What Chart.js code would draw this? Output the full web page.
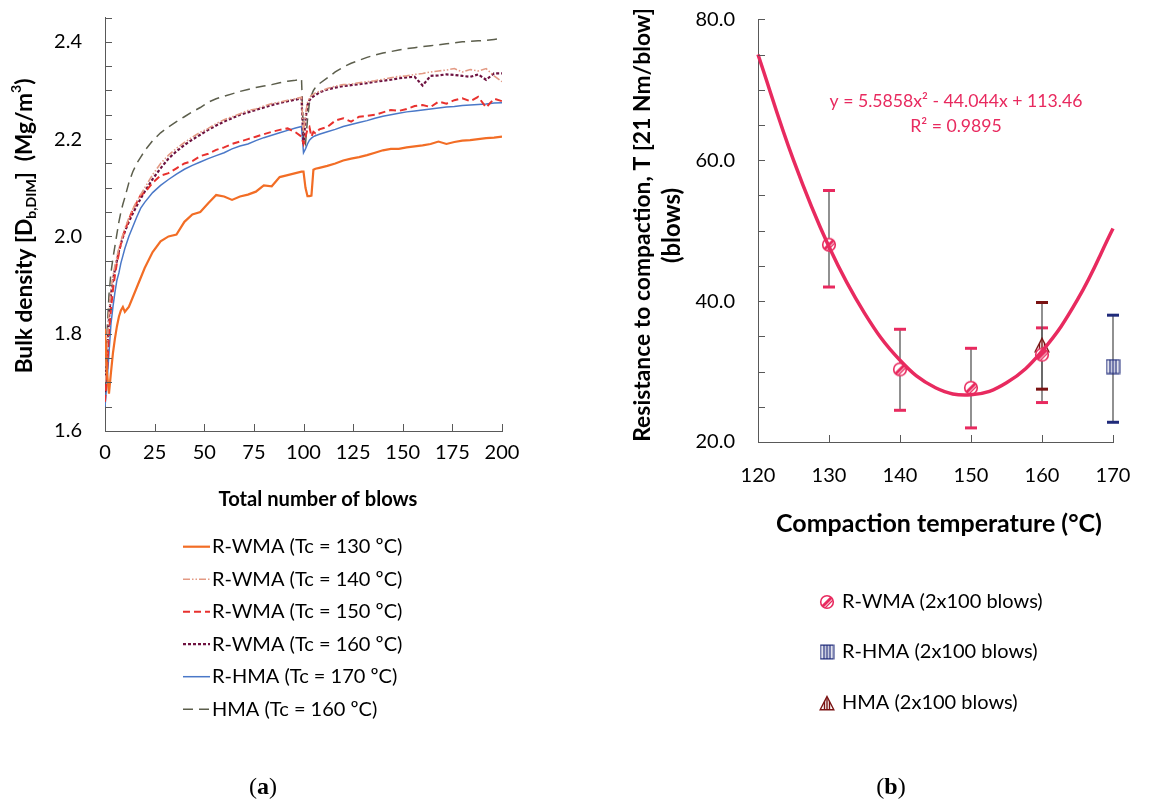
<!DOCTYPE html>
<html>
<head>
<meta charset="utf-8">
<script src="https://cdn.jsdelivr.net/npm/chart.js@4.4.1/dist/chart.umd.min.js"></script>
<style>
  html, body { margin: 0; padding: 0; background: #fff; }
  body { width: 1162px; height: 802px; position: relative; overflow: hidden; }
  .box { position: absolute; top: 0; height: 802px; }
  .lab { position: absolute; top: 773px; width: 60px; text-align: center;
         font-family: "Liberation Serif", serif; font-size: 24px; color: #000; }
</style>
</head>
<body>
<div class="box" style="left:0;width:580px"><canvas id="chartA"></canvas></div>
<div class="box" style="left:580px;width:582px"><canvas id="chartB"></canvas></div>
<div class="lab" style="left:233px">(<b>a</b>)</div>
<div class="lab" style="left:861px">(<b>b</b>)</div>
<script>
// ---- (a) bulk density vs number of blows ----
const blows = [
  0, 1, 2, 3, 4, 5, 6, 7, 8, 9, 10,
  12, 14, 16, 18,
  20, 24, 28, 32, 36, 40, 44, 48, 52, 56,
  60, 64, 68, 72, 76, 80, 84, 88, 92, 96,
  99, 100, 101, 102, 103, 104, 105, 106, 108,
  112, 116, 120, 124, 128, 132, 136, 140, 144, 148, 152, 156,
  160, 164, 168, 172, 176, 180, 184, 188, 192, 196, 200
];
const dens130 = [
  1.81, 1.72, 1.677, 1.72, 1.76, 1.79, 1.815, 1.835, 1.848, 1.855, 1.845,
  1.855, 1.875, 1.895, 1.915,
  1.935, 1.968, 1.99, 2.0, 2.004, 2.03, 2.045, 2.05, 2.068, 2.085,
  2.082, 2.075, 2.082, 2.086, 2.092, 2.105, 2.103, 2.122, 2.126, 2.13,
  2.133, 2.133, 2.10, 2.083, 2.083, 2.084, 2.137, 2.139, 2.141,
  2.145, 2.15, 2.156, 2.16, 2.163, 2.167, 2.172, 2.177, 2.18, 2.18, 2.183, 2.185,
  2.187, 2.19, 2.195, 2.19, 2.194, 2.197, 2.198, 2.2, 2.202, 2.203, 2.205
];
const dens140 = [
  1.70, 1.77, 1.845, 1.89, 1.918, 1.94, 1.958, 1.976, 1.99, 2.004, 2.016,
  2.038, 2.056, 2.072, 2.086,
  2.1, 2.127, 2.15, 2.167, 2.181, 2.193, 2.204, 2.214, 2.222, 2.232,
  2.24, 2.246, 2.252, 2.259, 2.262, 2.268, 2.273, 2.276, 2.28, 2.283,
  2.286, 2.21, 2.25, 2.275, 2.285, 2.29, 2.292, 2.295, 2.298,
  2.304, 2.309, 2.312, 2.313, 2.316, 2.318, 2.32, 2.323, 2.326, 2.329, 2.33, 2.333,
  2.335, 2.338, 2.34, 2.342, 2.345, 2.338, 2.343, 2.34, 2.345, 2.33, 2.318
];
const dens150 = [
  1.66, 1.72, 1.80, 1.85, 1.89, 1.92, 1.945, 1.965, 1.985, 2.0, 2.012,
  2.035, 2.055, 2.07, 2.085,
  2.09, 2.11, 2.125, 2.13, 2.14, 2.15, 2.155, 2.165, 2.17, 2.178,
  2.183, 2.19, 2.195, 2.2, 2.205, 2.21, 2.215, 2.219, 2.222, 2.214,
  2.205, 2.19, 2.205, 2.22, 2.225, 2.205, 2.215, 2.212, 2.22,
  2.225, 2.238, 2.243, 2.236, 2.246, 2.248, 2.25, 2.255, 2.26, 2.258, 2.262, 2.268,
  2.27, 2.266, 2.277, 2.273, 2.28, 2.284, 2.278, 2.287, 2.265, 2.283, 2.278
];
const dens160 = [
  1.68, 1.75, 1.83, 1.88, 1.91, 1.932, 1.95, 1.97, 1.985, 1.998, 2.01,
  2.03, 2.047, 2.063, 2.078,
  2.092, 2.118, 2.14, 2.16, 2.175, 2.188, 2.199, 2.209, 2.219, 2.228,
  2.236, 2.243, 2.25, 2.255, 2.26, 2.265, 2.27, 2.274, 2.278, 2.281,
  2.284, 2.19, 2.24, 2.27, 2.28, 2.285, 2.288, 2.29, 2.296,
  2.302, 2.306, 2.309, 2.311, 2.313, 2.315, 2.318, 2.32, 2.322, 2.325, 2.327, 2.328,
  2.31, 2.33, 2.331, 2.333, 2.332, 2.33, 2.328, 2.333, 2.322, 2.335, 2.335
];
const dens170 = [
  1.65, 1.70, 1.76, 1.82, 1.855, 1.885, 1.91, 1.925, 1.945, 1.96, 1.975,
  2.0, 2.02, 2.04, 2.058,
  2.07, 2.09, 2.105, 2.117, 2.128, 2.138, 2.146, 2.153, 2.16, 2.166,
  2.172, 2.18, 2.186, 2.19, 2.197, 2.203, 2.208, 2.213, 2.218, 2.223,
  2.226, 2.172, 2.18, 2.19, 2.198, 2.202, 2.205, 2.207, 2.21,
  2.215, 2.22, 2.226, 2.23, 2.234, 2.238, 2.243, 2.247, 2.25, 2.253, 2.256, 2.258,
  2.26, 2.262, 2.264, 2.266, 2.267, 2.269, 2.27, 2.271, 2.272, 2.274, 2.275
];
const densHMA = [
  1.70, 1.80, 1.88, 1.925, 1.955, 1.98, 2.005, 2.03, 2.05, 2.066, 2.08,
  2.11, 2.133, 2.15, 2.163,
  2.176, 2.197, 2.213, 2.225, 2.236, 2.246, 2.256, 2.265, 2.276, 2.283,
  2.288, 2.293, 2.298, 2.302, 2.306, 2.309, 2.312, 2.316, 2.319, 2.321,
  2.324, 2.20, 2.19, 2.24, 2.275, 2.29, 2.30, 2.306, 2.314,
  2.326, 2.338, 2.348, 2.356, 2.362, 2.368, 2.373, 2.377, 2.38, 2.383, 2.386, 2.388,
  2.39, 2.392, 2.394, 2.396, 2.398, 2.40, 2.401, 2.402, 2.403, 2.405, 2.407
];
const seriesLabels = [
  "R-WMA (Tc = 130 ºC)", "R-WMA (Tc = 140 ºC)", "R-WMA (Tc = 150 ºC)",
  "R-WMA (Tc = 160 ºC)", "R-HMA (Tc = 170 ºC)", "HMA (Tc = 160 ºC)"
];

// ---- (b) resistance to compaction vs temperature ----
const tempsWMA = [130, 140, 150, 160];
const resWMA = [48.0, 30.3, 27.7, 32.4];
const resWMALow = [42.0, 24.5, 22.0, 25.6];
const resWMAHigh = [55.7, 36.0, 33.3, 36.2];
const tempsRHMA = [170];
const resRHMA = [30.7];
const resRHMALow = [22.8];
const resRHMAHigh = [38.0];
const tempsHMA = [160];
const resHMA = [33.8];
const resHMALow = [27.5];
const resHMAHigh = [39.8];
const trendTemps = [120, 125, 130, 135, 140, 145, 150, 155, 160, 165, 170];
const trendRes = [75.0, 60.0, 47.7, 38.3, 31.6, 27.7, 26.7, 28.4, 32.9, 40.2, 50.3];
const legendLabelsB = ["R-WMA (2x100 blows)", "R-HMA (2x100 blows)", "HMA (2x100 blows)"];
const trendText = ["y = 5.5858x² - 44.044x + 113.46", "R² = 0.9895"];

Chart.defaults.font.family = "Lato";
Chart.defaults.font.size = 20;
Chart.defaults.color = "#000";

const PINK = "#E82A5F";
const NAVY = "#1F2A7A";
const DKRED = "#7A1212";
const AXIS = "#595959";

function fitSize(ctx, text, weight, target) {
  ctx.font = weight + " 100px Lato";
  return 100 * target / ctx.measureText(text).width;
}

function drawVertical(ctx, parts, cx, cy, target, weight) {
  // parts: [text, shift] shift -1 = sub, 1 = sup
  const measure = (size) => {
    let w = 0;
    parts.forEach(p => {
      ctx.font = weight + " " + (p[1] ? size * 0.62 : size) + "px Lato";
      w += ctx.measureText(p[0]).width;
    });
    return w;
  };
  const size = 100 * target / measure(100);
  const total = measure(size);
  ctx.save();
  ctx.translate(cx, cy);
  ctx.rotate(-Math.PI / 2);
  ctx.textBaseline = "middle";
  ctx.textAlign = "left";
  ctx.fillStyle = "#000";
  let x = -total / 2;
  parts.forEach(p => {
    ctx.font = weight + " " + (p[1] ? size * 0.62 : size) + "px Lato";
    const dy = p[1] < 0 ? size * 0.28 : p[1] > 0 ? -size * 0.36 : 0;
    ctx.fillText(p[0], x, dy);
    x += ctx.measureText(p[0]).width;
  });
  ctx.restore();
}

// keep the plot area exactly where layout.padding puts it
function noEdgePadding(s) {
  s.paddingTop = 0; s.paddingBottom = 0; s.paddingLeft = 0; s.paddingRight = 0;
}

const innerTicks = {
  id: "innerTicks",
  afterDraw(chart) {
    const ctx = chart.ctx, a = chart.chartArea;
    const xs = chart.scales.x, ys = chart.scales.y;
    ctx.save();
    ctx.strokeStyle = AXIS;
    ctx.lineWidth = 1;
    xs.ticks.forEach(t => {
      const px = Math.round(xs.getPixelForValue(t.value)) + 0.5;
      ctx.beginPath(); ctx.moveTo(px, a.bottom); ctx.lineTo(px, a.bottom - 7); ctx.stroke();
    });
    ys.ticks.forEach(t => {
      const py = Math.round(ys.getPixelForValue(t.value)) + 0.5;
      ctx.beginPath(); ctx.moveTo(a.left, py); ctx.lineTo(a.left + 7, py); ctx.stroke();
    });
    ctx.restore();
  }
};

// ---------------- chart (a) ----------------
const densSeries = [dens130, dens140, dens150, dens160, dens170, densHMA];
const lineStyles = [
  { color: "#F26D25", width: 2.2, dash: [] },
  { color: "#E39A84", width: 1.6, dash: [7, 2, 1.5, 2, 1.5, 2] },
  { color: "#E8312E", width: 2, dash: [7, 4] },
  { color: "#6E1240", width: 2.2, dash: [3, 2] },
  { color: "#4A78C8", width: 1.5, dash: [] },
  { color: "#5C5E4C", width: 1.5, dash: [10, 6] }
];

const decorA = {
  id: "decorA",
  afterDraw(chart) {
    const ctx = chart.ctx;
    ctx.save();
    const s = fitSize(ctx, "Total number of blows", "bold", 199);
    ctx.font = "bold " + s + "px Lato";
    ctx.textAlign = "center";
    ctx.textBaseline = "middle";
    ctx.fillStyle = "#000";
    ctx.fillText("Total number of blows", 318, 500);
    ctx.restore();
    drawVertical(ctx, [["Bulk density [D", 0], ["b,DIM", -1], ["]  (Mg/m", 0], ["3", 1], [")", 0]],
      25, 226, 295, "bold");
    // legend
    ctx.save();
    ctx.font = "20px Lato";
    ctx.textBaseline = "middle";
    ctx.textAlign = "left";
    chart.data.datasets.forEach((ds, i) => {
      const y = 546.7 + i * 32.5;
      ctx.strokeStyle = ds.borderColor;
      ctx.lineWidth = ds.borderWidth;
      ctx.setLineDash(ds.borderDash);
      ctx.beginPath(); ctx.moveTo(183, y); ctx.lineTo(210, y); ctx.stroke();
      ctx.setLineDash([]);
      ctx.fillStyle = "#000";
      ctx.fillText(ds.label, 212, y);
    });
    ctx.restore();
  }
};

new Chart(document.getElementById("chartA"), {
  type: "line",
  data: {
    datasets: densSeries.map((vals, k) => ({
      label: seriesLabels[k],
      data: blows.map((b, i) => ({ x: b, y: vals[i] })),
      borderColor: lineStyles[k].color,
      borderWidth: lineStyles[k].width,
      borderDash: lineStyles[k].dash,
      pointRadius: 0,
      tension: 0,
      fill: false
    }))
  },
  options: {
    responsive: true,
    maintainAspectRatio: false,
    animation: false,
    layout: { padding: { top: 17.5, right: 78, left: 0, bottom: 0 } },
    plugins: { legend: { display: false }, tooltip: { enabled: false } },
    scales: {
      x: {
        type: "linear", min: 0, max: 200,
        ticks: { stepSize: 25, padding: 10, maxRotation: 0, autoSkip: false },
        grid: { display: false, drawTicks: false },
        border: { display: true, color: AXIS, width: 1 },
        afterFit: s => { s.height = 802 - 431; noEdgePadding(s); }
      },
      y: {
        min: 1.6, max: 2.45,
        ticks: {
          stepSize: 0.05, padding: 23, autoSkip: false,
          callback: v => (Math.abs(v * 5 - Math.round(v * 5)) < 1e-6 ? v.toFixed(1) : "")
        },
        grid: { display: false, drawTicks: false },
        border: { display: true, color: AXIS, width: 1 },
        afterFit: s => { s.width = 105; noEdgePadding(s); }
      }
    }
  },
  plugins: [innerTicks, decorA]
});

// ---------------- chart (b) ----------------
function makeCircle() {
  const c = document.createElement("canvas");
  c.width = 16; c.height = 16;
  const g = c.getContext("2d");
  g.beginPath(); g.arc(8, 8, 6.3, 0, 2 * Math.PI);
  g.fillStyle = "#fff"; g.fill();
  g.save(); g.clip();
  g.strokeStyle = PINK; g.lineWidth = 3;
  g.beginPath(); g.moveTo(3, 13); g.lineTo(13, 3); g.stroke();
  g.lineWidth = 1.2;
  g.beginPath(); g.moveTo(6, 14); g.lineTo(14, 6); g.stroke();
  g.restore();
  g.beginPath(); g.arc(8, 8, 6.3, 0, 2 * Math.PI);
  g.lineWidth = 1.6; g.strokeStyle = PINK; g.stroke();
  return c;
}
function makeSquare() {
  const c = document.createElement("canvas");
  c.width = 15; c.height = 16;
  const g = c.getContext("2d");
  g.fillStyle = "#fff"; g.fillRect(1, 1, 13, 14);
  g.strokeStyle = NAVY; g.lineWidth = 1.5;
  [4.5, 7.5, 10.5].forEach(x => { g.beginPath(); g.moveTo(x, 1); g.lineTo(x, 15); g.stroke(); });
  g.lineWidth = 1.2; g.strokeRect(1.1, 1.1, 12.8, 13.8);
  return c;
}
function makeTriangle() {
  const c = document.createElement("canvas");
  c.width = 16; c.height = 16;
  const g = c.getContext("2d");
  const path = () => { g.beginPath(); g.moveTo(8, 1.5); g.lineTo(14.8, 14.8); g.lineTo(1.2, 14.8); g.closePath(); };
  path(); g.fillStyle = "#fff"; g.fill();
  g.save(); path(); g.clip();
  g.strokeStyle = DKRED; g.lineWidth = 1.4;
  [5.5, 8, 10.5].forEach(x => { g.beginPath(); g.moveTo(x, 0); g.lineTo(x, 16); g.stroke(); });
  g.restore();
  path(); g.strokeStyle = DKRED; g.lineWidth = 1.4; g.stroke();
  return c;
}
const circleImg = makeCircle();
const squareImg = makeSquare();
const triangleImg = makeTriangle();

const errGroups = [
  { t: tempsWMA, lo: resWMALow, hi: resWMAHigh, cap: PINK },
  { t: tempsRHMA, lo: resRHMALow, hi: resRHMAHigh, cap: NAVY },
  { t: tempsHMA, lo: resHMALow, hi: resHMAHigh, cap: DKRED }
];

const errorBars = {
  id: "errorBars",
  beforeDatasetsDraw(chart) {
    const ctx = chart.ctx, xs = chart.scales.x, ys = chart.scales.y;
    ctx.save();
    errGroups.forEach(g => {
      g.t.forEach((T, i) => {
        const px = xs.getPixelForValue(T);
        const pt = ys.getPixelForValue(g.hi[i]);
        const pb = ys.getPixelForValue(g.lo[i]);
        ctx.strokeStyle = "#555"; ctx.lineWidth = 1.3;
        ctx.beginPath(); ctx.moveTo(px, pt); ctx.lineTo(px, pb); ctx.stroke();
        ctx.strokeStyle = g.cap; ctx.lineWidth = 3;
        [pt, pb].forEach(py => { ctx.beginPath(); ctx.moveTo(px - 6, py); ctx.lineTo(px + 6, py); ctx.stroke(); });
      });
    });
    ctx.restore();
  }
};

const decorB = {
  id: "decorB",
  afterDraw(chart) {
    const ctx = chart.ctx;
    ctx.save();
    ctx.textAlign = "center";
    ctx.textBaseline = "middle";
    ctx.fillStyle = "#000";
    const s = fitSize(ctx, "Compaction temperature (°C)", "bold", 326);
    ctx.font = "bold " + s + "px Lato";
    ctx.fillText("Compaction temperature (°C)", 359, 524);
    // trendline equation
    const e = fitSize(ctx, trendText[0], "normal", 253);
    ctx.font = e + "px Lato";
    ctx.fillStyle = PINK;
    ctx.fillText(trendText[0], 376, 101.7);
    ctx.fillText(trendText[1], 376, 126.7);
    ctx.restore();
    drawVertical(ctx, [["Resistance to compaction, T [21 Nm/blow]", 0]], 63, 225, 434, "bold");
    drawVertical(ctx, [["(blows)", 0]], 92, 225.5, 75, "bold");
    // legend
    ctx.save();
    ctx.font = "20px Lato";
    ctx.textBaseline = "middle";
    ctx.textAlign = "left";
    ctx.fillStyle = "#000";
    const imgs = [circleImg, squareImg, triangleImg];
    const rows = [602, 652, 703];
    legendLabelsB.forEach((lab, i) => {
      const im = imgs[i];
      ctx.drawImage(im, 247 - im.width / 2, rows[i] - im.height / 2);
      ctx.fillText(lab, 262, rows[i]);
    });
    ctx.restore();
  }
};

new Chart(document.getElementById("chartB"), {
  type: "scatter",
  data: {
    datasets: [
      {
        label: "trend",
        data: trendTemps.map((t, i) => ({ x: t, y: trendRes[i] })),
        showLine: true, pointRadius: 0, borderColor: PINK, borderWidth: 3.5,
        tension: 0.4, clip: false
      },
      {
        label: legendLabelsB[0],
        data: tempsWMA.map((t, i) => ({ x: t, y: resWMA[i] })),
        pointStyle: circleImg, clip: false
      },
      {
        label: legendLabelsB[1],
        data: tempsRHMA.map((t, i) => ({ x: t, y: resRHMA[i] })),
        pointStyle: squareImg, clip: false
      },
      {
        label: legendLabelsB[2],
        data: tempsHMA.map((t, i) => ({ x: t, y: resHMA[i] })),
        pointStyle: triangleImg, clip: false
      }
    ]
  },
  options: {
    responsive: true,
    maintainAspectRatio: false,
    animation: false,
    layout: { padding: { top: 19.3, right: 49, left: 0, bottom: 0 } },
    plugins: { legend: { display: false }, tooltip: { enabled: false } },
    scales: {
      x: {
        type: "linear", min: 120, max: 170,
        ticks: { stepSize: 10, padding: 22, maxRotation: 0, autoSkip: false },
        grid: { display: false, drawTicks: false },
        border: { display: true, color: AXIS, width: 1 },
        afterFit: s => { s.height = 802 - 442; noEdgePadding(s); }
      },
      y: {
        min: 20, max: 80,
        ticks: {
          stepSize: 5, padding: 23, autoSkip: false,
          callback: v => (v % 20 === 0 ? v.toFixed(1) : "")
        },
        grid: { display: false, drawTicks: false },
        border: { display: true, color: AXIS, width: 1 },
        afterFit: s => { s.width = 178; noEdgePadding(s); }
      }
    }
  },
  plugins: [innerTicks, errorBars, decorB]
});
</script>
</body>
</html>
